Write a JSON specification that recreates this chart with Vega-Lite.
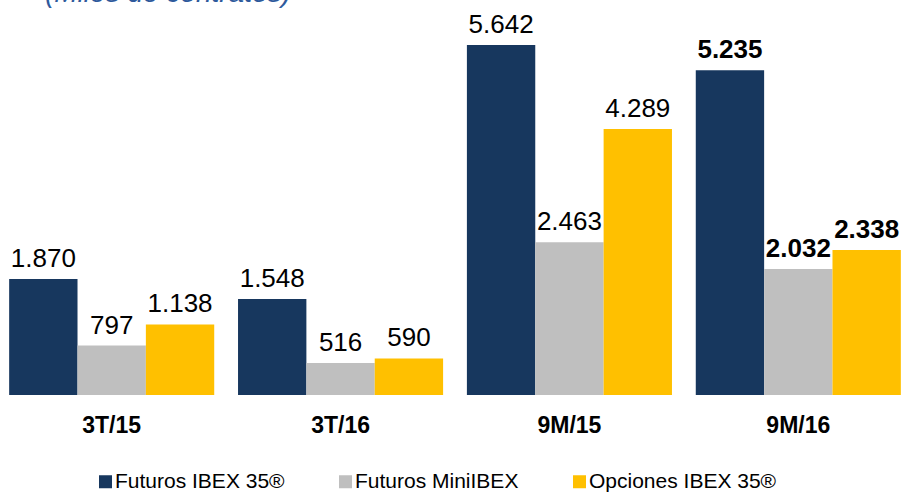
{
  "$schema": "https://vega.github.io/schema/vega-lite/v6.json",
  "autosize": "none",
  "padding": {"top": 0, "left": 0, "right": 0, "bottom": 98},
  "width": 910,
  "height": 395,
  "title": {
    "text": "(Miles de contratos)",
    "anchor": "start",
    "frame": "group",
    "orient": "top",
    "baseline": "alphabetic",
    "offset": -30,
    "dx": 45,
    "font": "Liberation Sans",
    "fontSize": 28,
    "fontStyle": "italic",
    "fontWeight": "normal",
    "color": "#2E5A9C"
  },
  "config": {
    "view": {"stroke": null},
    "font": "Liberation Sans",
    "locale": {"number": {"decimal": ",", "thousands": ".", "grouping": [3], "currency": ["", " €"]}}
  },
  "data": {
    "values": [
      {"periodo": "3T/15", "serie": "Futuros IBEX 35®", "valor": 1870},
      {"periodo": "3T/15", "serie": "Futuros MiniIBEX", "valor": 797},
      {"periodo": "3T/15", "serie": "Opciones IBEX 35®", "valor": 1138},
      {"periodo": "3T/16", "serie": "Futuros IBEX 35®", "valor": 1548},
      {"periodo": "3T/16", "serie": "Futuros MiniIBEX", "valor": 516},
      {"periodo": "3T/16", "serie": "Opciones IBEX 35®", "valor": 590},
      {"periodo": "9M/15", "serie": "Futuros IBEX 35®", "valor": 5642},
      {"periodo": "9M/15", "serie": "Futuros MiniIBEX", "valor": 2463},
      {"periodo": "9M/15", "serie": "Opciones IBEX 35®", "valor": 4289},
      {"periodo": "9M/16", "serie": "Futuros IBEX 35®", "valor": 5235},
      {"periodo": "9M/16", "serie": "Futuros MiniIBEX", "valor": 2032},
      {"periodo": "9M/16", "serie": "Opciones IBEX 35®", "valor": 2338}
    ]
  },
  "encoding": {
    "x": {
      "field": "periodo",
      "type": "nominal",
      "sort": ["3T/15", "3T/16", "9M/15", "9M/16"],
      "scale": {"paddingInner": 0.104, "paddingOuter": 0.04},
      "axis": {
        "title": null,
        "domain": false,
        "ticks": false,
        "tickSize": 0,
        "labelAngle": 0,
        "labelPadding": 19,
        "labelFont": "Liberation Sans",
        "labelFontSize": 23,
        "labelFontWeight": "bold",
        "labelColor": "#000000"
      }
    },
    "xOffset": {
      "field": "serie",
      "type": "nominal",
      "sort": ["Futuros IBEX 35®", "Futuros MiniIBEX", "Opciones IBEX 35®"],
      "scale": {"paddingInner": 0, "paddingOuter": 0}
    },
    "y": {
      "field": "valor",
      "type": "quantitative",
      "scale": {"domain": [0, 6367], "nice": false, "zero": true},
      "axis": null
    }
  },
  "layer": [
    {
      "mark": {"type": "bar", "strokeWidth": 0},
      "encoding": {
        "color": {
          "field": "serie",
          "type": "nominal",
          "sort": ["Futuros IBEX 35®", "Futuros MiniIBEX", "Opciones IBEX 35®"],
          "scale": {
            "domain": ["Futuros IBEX 35®", "Futuros MiniIBEX", "Opciones IBEX 35®"],
            "range": ["#17375E", "#BFBFBF", "#FFC000"]
          },
          "legend": {
            "title": null,
            "orient": "none",
            "direction": "horizontal",
            "legendX": 95,
            "legendY": 471,
            "padding": 0,
            "symbolType": "square",
            "symbolSize": 169,
            "symbolStrokeWidth": 0,
            "symbolOpacity": 1,
            "labelFont": "Liberation Sans",
            "labelFontSize": 21,
            "labelColor": "#000000",
            "labelOffset": -1,
            "labelLimit": 400,
            "columnPadding": 50
          }
        }
      }
    },
    {
      "transform": [{"filter": "datum.periodo !== '9M/16'"}],
      "mark": {"type": "text", "baseline": "alphabetic", "dy": -12, "font": "Liberation Sans", "fontSize": 26, "color": "#000000"},
      "encoding": {
        "text": {"field": "valor", "type": "quantitative", "format": ",.0f"}
      }
    },
    {
      "transform": [{"filter": "datum.periodo === '9M/16'"}],
      "mark": {"type": "text", "baseline": "alphabetic", "dy": -12, "font": "Liberation Sans", "fontSize": 26, "fontWeight": "bold", "color": "#000000"},
      "encoding": {
        "text": {"field": "valor", "type": "quantitative", "format": ",.0f"}
      }
    }
  ]
}
